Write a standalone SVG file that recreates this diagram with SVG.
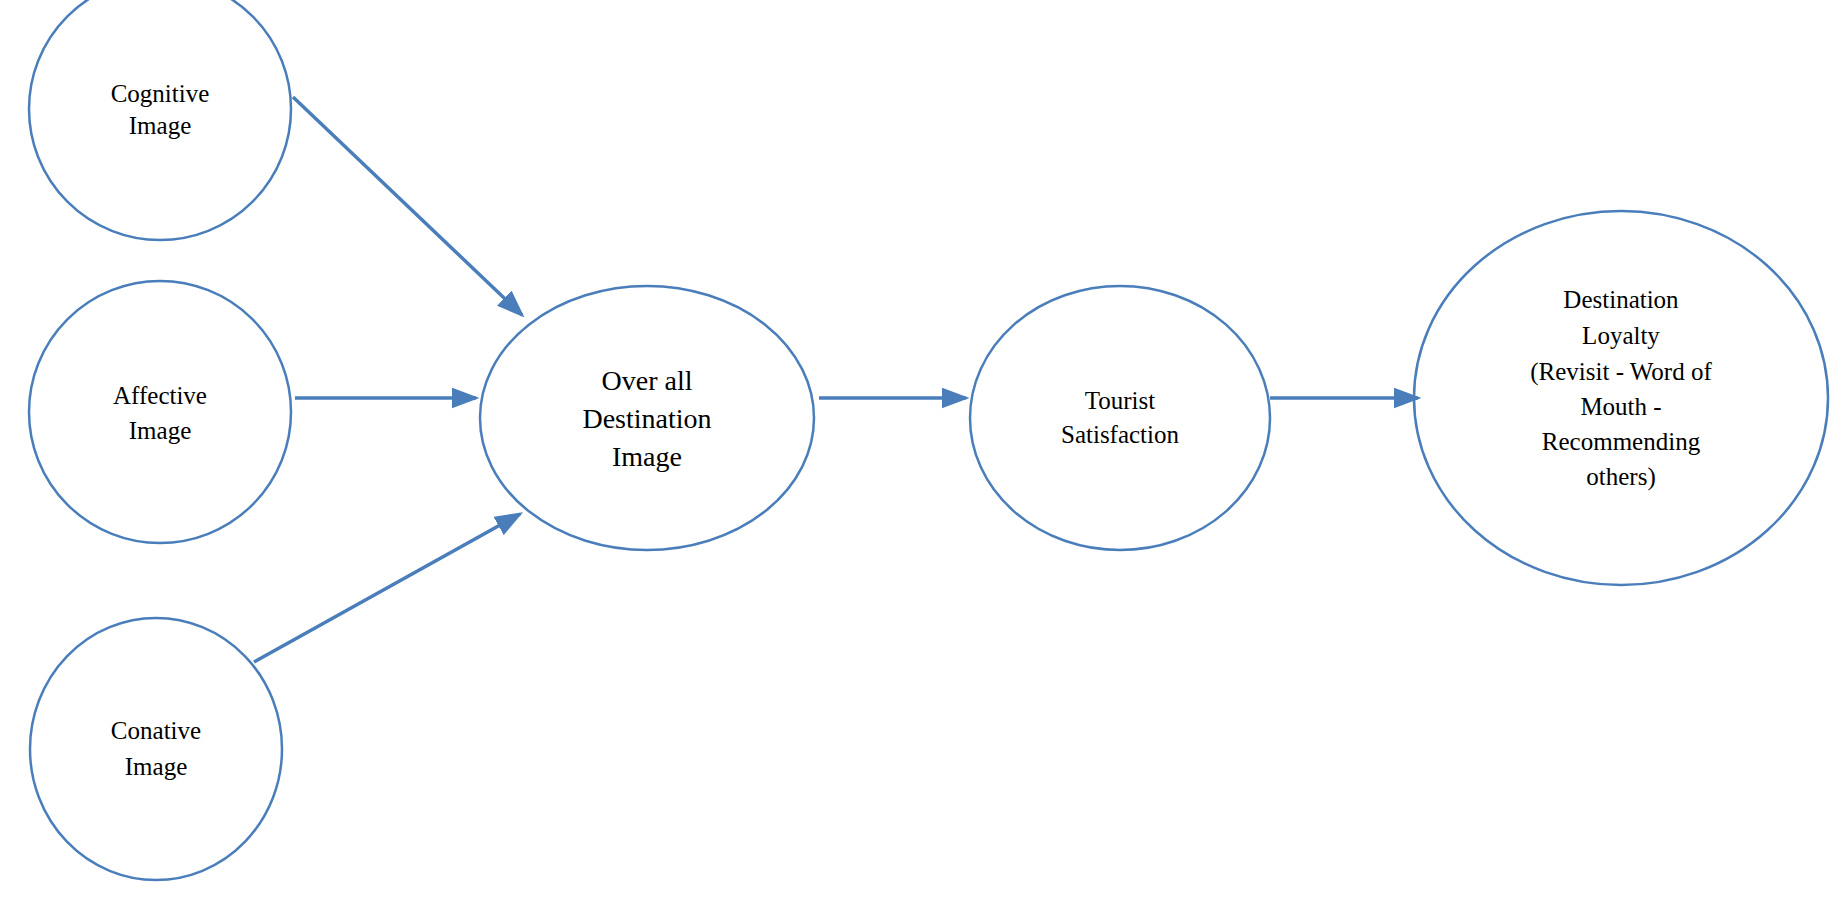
<svg xmlns="http://www.w3.org/2000/svg" width="1835" height="903" viewBox="0 0 1835 903">
<style>
.n{fill:#fff;stroke:#4a7ebb;stroke-width:2.5}
.t{font-family:"Liberation Serif","DejaVu Serif",serif;font-size:25px;fill:#000;text-anchor:middle}
.b{font-size:28px}
.c{stroke:#4a7ebb;stroke-width:3.5;fill:none;marker-end:url(#a)}
</style>
<defs><marker id="a" markerWidth="8" markerHeight="6" refX="7" refY="3" orient="auto" markerUnits="strokeWidth"><path d="M0,0L8,3L0,6z" fill="#4a7ebb"/></marker></defs>
<rect width="1835" height="903" fill="#fff"/>
<g id="cognitive"><circle class="n" cx="160" cy="109" r="131"/><text class="t" x="160" y="102">Cognitive</text><text class="t" x="160" y="134">Image</text></g>
<g id="affective"><circle class="n" cx="160" cy="412" r="131"/><text class="t" x="160" y="404">Affective</text><text class="t" x="160" y="439">Image</text></g>
<g id="conative"><ellipse class="n" cx="156" cy="749" rx="126" ry="131"/><text class="t" x="156" y="739">Conative</text><text class="t" x="156" y="775">Image</text></g>
<g id="overall"><ellipse class="n" cx="647" cy="418" rx="167" ry="132"/><text class="t b" x="647" y="390">Over all</text><text class="t b" x="647" y="428">Destination</text><text class="t b" x="647" y="466">Image</text></g>
<g id="tourist"><ellipse class="n" cx="1120" cy="418" rx="150" ry="132"/><text class="t" x="1120" y="409">Tourist</text><text class="t" x="1120" y="443">Satisfaction</text></g>
<g id="loyalty"><ellipse class="n" cx="1621" cy="398" rx="207" ry="187"/>
<text class="t" x="1621" y="308">Destination</text><text class="t" x="1621" y="344">Loyalty</text><text class="t" x="1621" y="380">(Revisit - Word of</text><text class="t" x="1621" y="415">Mouth -</text><text class="t" x="1621" y="450">Recommending</text><text class="t" x="1621" y="485">others)</text></g>
<g id="connectors">
<line class="c" x1="293" y1="97" x2="522" y2="315"/>
<line class="c" x1="295" y1="398" x2="476" y2="398"/>
<line class="c" x1="254" y1="662" x2="520" y2="514"/>
<line class="c" x1="819" y1="398" x2="966" y2="398"/>
<line class="c" x1="1270" y1="398" x2="1418" y2="398"/>
</g>
</svg>
